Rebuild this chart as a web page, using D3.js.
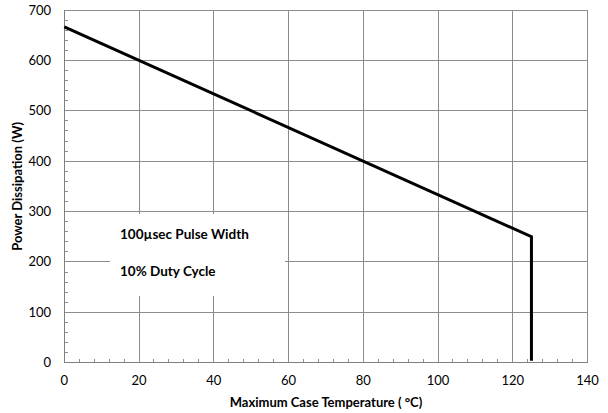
<!DOCTYPE html>
<html><head><meta charset="utf-8">
<script src="https://cdn.jsdelivr.net/npm/d3@7"></script>
<style>
body{margin:0;background:#fff;}
text{font-family:Lato,"Open Sans","Liberation Sans",sans-serif;}
</style></head>
<body>
<svg id="c" width="608" height="413"></svg>
<script>
const xTicks = [0,20,40,60,80,100,120,140];
const yTicks = [0,100,200,300,400,500,600,700];
const temps = [0, 125, 125];
const power = [666.7, 250, 4];
const notes = ["100µsec Pulse Width", "10% Duty Cycle"];
const xTitle = "Maximum Case Temperature ( °C)";
const yTitle = "Power Dissipation (W)";

const svg = d3.select("#c");
const x = d3.scaleLinear().domain([0,140]).range([64.3,587.5]);
const y = d3.scaleLinear().domain([0,700]).range([362.7,10]);

// grid
svg.append("g").selectAll("line").data(yTicks.slice(1)).join("line")
  .attr("x1",x(0)).attr("x2",x(140)).attr("y1",d=>y(d)).attr("y2",d=>y(d))
  .attr("stroke","#8c8c8c").attr("stroke-width",1).attr("shape-rendering","crispEdges");
svg.append("g").selectAll("line").data(xTicks.slice(1)).join("line")
  .attr("x1",d=>x(d)).attr("x2",d=>x(d)).attr("y1",y(0)).attr("y2",y(700))
  .attr("stroke","#8c8c8c").attr("stroke-width",1).attr("shape-rendering","crispEdges");

// minor ticks
const xMinor = d3.range(0,141,4).filter(v=>v%20!==0);
const yMinor = d3.range(0,701,20).filter(v=>v%100!==0);
svg.append("g").selectAll("line").data(xMinor).join("line")
  .attr("x1",d=>x(d)).attr("x2",d=>x(d)).attr("y1",y(0)).attr("y2",y(0)-4)
  .attr("stroke","#8c8c8c").attr("shape-rendering","crispEdges");
svg.append("g").selectAll("line").data(yMinor).join("line")
  .attr("x1",x(0)).attr("x2",x(0)+4).attr("y1",d=>y(d)).attr("y2",d=>y(d))
  .attr("stroke","#8c8c8c").attr("shape-rendering","crispEdges");

// axes lines
svg.append("line").attr("x1",x(0)).attr("x2",x(140)).attr("y1",y(0)).attr("y2",y(0))
  .attr("stroke","#808080").attr("shape-rendering","crispEdges");
svg.append("line").attr("x1",x(0)).attr("x2",x(0)).attr("y1",y(0)).attr("y2",y(700))
  .attr("stroke","#808080").attr("shape-rendering","crispEdges");

// text box (white)
svg.append("rect").attr("x",110).attr("y",214).attr("width",175).attr("height",82).attr("fill","#fff");
svg.append("g").selectAll("text").data(notes).join("text")
  .attr("x",120).attr("y",(d,i)=>239+i*36.5)
  .attr("font-size",13.5).attr("font-weight","bold").attr("fill","#000").text(d=>d);

// line
const line = d3.line().x((d,i)=>x(temps[i])).y(d=>y(d));
svg.append("path").datum(power).attr("d",line).attr("fill","none")
  .attr("stroke","#000").attr("stroke-width",3).attr("stroke-linejoin","miter");

// tick labels
svg.append("g").selectAll("text").data(xTicks).join("text")
  .attr("x",d=>x(d)).attr("y",385).attr("text-anchor","middle")
  .attr("font-size",13).attr("fill","#000").text(d=>d);
svg.append("g").selectAll("text").data(yTicks).join("text")
  .attr("x",51).attr("y",d=>y(d)+4.5).attr("text-anchor","end")
  .attr("font-size",13).attr("fill","#000").text(d=>d);

// titles
svg.append("text").attr("x",326).attr("y",406.5).attr("text-anchor","middle")
  .attr("font-size",13).attr("font-weight","bold").text(xTitle);
svg.append("text").attr("transform",`translate(22,${y(350)}) rotate(-90)`)
  .attr("text-anchor","middle").attr("font-size",13).attr("font-weight","bold").text(yTitle);
</script>
</body></html>
